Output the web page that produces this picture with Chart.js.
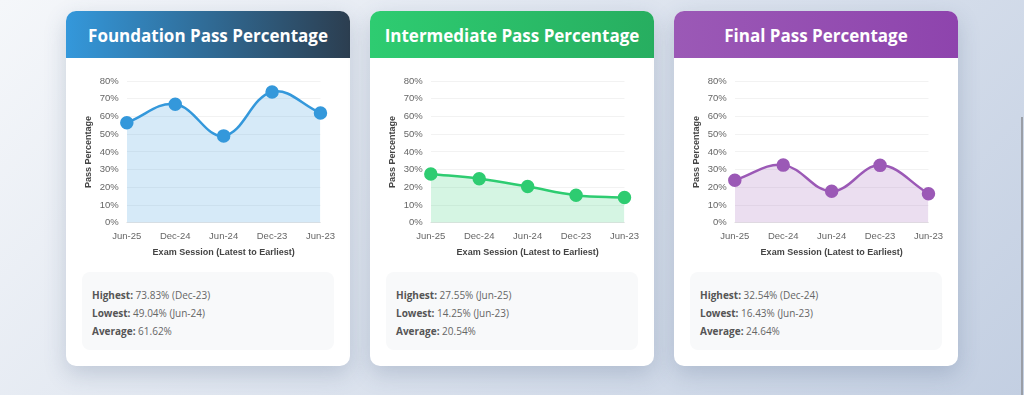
<!DOCTYPE html>
<html>
<head>
<meta charset="utf-8">
<script src="https://cdn.jsdelivr.net/npm/chart.js@4.4.0/dist/chart.umd.min.js"></script>
<style>
    html, body {
        margin: 0;
        padding: 0;
        width: 1024px;
        height: 395px;
        overflow: hidden;
    }
    body {
        background: linear-gradient(135deg, #f5f7fa 0%, #c3cfe2 100%);
        font-family: "Open Sans", "Noto Sans", sans-serif;
        position: relative;
    }
    .card {
        position: absolute;
        top: 11px;
        width: 284px;
        height: 355px;
        background: #fff;
        border-radius: 10px;
        box-shadow: 0 8px 22px rgba(60, 80, 120, 0.22);
        overflow: hidden;
    }
    .card h2 {
        margin: 0;
        height: 47px;
        line-height: 49px;
        text-align: center;
        color: #fff;
        font-size: 17px;
        font-weight: 700;
    }
    .chart-box {
        position: absolute;
        left: 15px;
        top: 62px;
        width: 254px;
        height: 189px;
    }
    .stats {
        position: absolute;
        left: 16px;
        top: 261px;
        width: 252px;
        height: 78px;
        box-sizing: border-box;
        background: #f8f9fa;
        border-radius: 8px;
        padding: 14px 10px;
        font-size: 10px;
        color: #666;
        line-height: 18px;
    }
    .stats b { color: #555; }
    .scroll {
        position: absolute;
        right: 1px;
        top: 117px;
        width: 2px;
        height: 278px;
        background: #9a9ea6;
    }
</style>
</head>
<body>
<div class="card" style="left:66px">
    <h2 style="background:linear-gradient(90deg,#3498db,#2c3e50)">Foundation Pass Percentage</h2>
    <div class="chart-box"><canvas id="chart1"></canvas></div>
    <div class="stats" id="stats1"></div>
</div>
<div class="card" style="left:370px">
    <h2 style="background:linear-gradient(90deg,#2ecc71,#27ae60)">Intermediate Pass Percentage</h2>
    <div class="chart-box"><canvas id="chart2"></canvas></div>
    <div class="stats" id="stats2"></div>
</div>
<div class="card" style="left:674px">
    <h2 style="background:linear-gradient(90deg,#9b59b6,#8e44ad)">Final Pass Percentage</h2>
    <div class="chart-box"><canvas id="chart3"></canvas></div>
    <div class="stats" id="stats3"></div>
</div>
<div class="scroll"></div>
<script>
const sessions = ["Jun-25", "Dec-24", "Jun-24", "Dec-23", "Jun-23"];
const foundation = [56.45, 66.85, 49.04, 73.83, 61.93];
const intermediate = [27.55, 24.85, 20.45, 15.6, 14.25];
const finalLevel = [24.0, 32.54, 17.83, 32.4, 16.43];
const yTicks = [0, 10, 20, 30, 40, 50, 60, 70, 80];

function makeChart(id, data, color, fill) {
    const ctx = document.getElementById(id);
    new Chart(ctx, {
        type: 'line',
        data: {
            labels: sessions,
            datasets: [{
                label: 'Pass Percentage',
                data: data,
                borderColor: color,
                backgroundColor: fill,
                fill: true,
                tension: 0.4,
                borderWidth: 2.5,
                pointRadius: 5.5,
                pointHoverRadius: 5.5,
                pointBackgroundColor: color,
                pointBorderColor: color
            }]
        },
        options: {
            responsive: true,
            maintainAspectRatio: false,
            animation: false,
            plugins: {
                legend: { display: false },
                tooltip: { enabled: false }
            },
            scales: {
                y: {
                    min: yTicks[0],
                    max: yTicks[yTicks.length - 1],
                    ticks: {
                        stepSize: 10,
                        padding: 0,
                        color: '#666',
                        font: { size: 9.5 },
                        callback: function (v) { return v + '%'; }
                    },
                    grid: { color: 'rgba(0,0,0,0.05)', tickColor: 'transparent' },
                    border: { display: false },
                    title: {
                        display: true,
                        text: 'Pass Percentage',
                        color: '#444',
                        padding: { top: 2, bottom: 6 },
                        font: { size: 9, weight: 'bold' }
                    }
                },
                x: {
                    ticks: { color: '#666', padding: 0, maxRotation: 0, font: { size: 9.5 } },
                    grid: { display: false },
                    border: { color: 'rgba(0,0,0,0.06)' },
                    title: {
                        display: true,
                        text: 'Exam Session (Latest to Earliest)',
                        color: '#444',
                        padding: { top: 5, bottom: 4 },
                        font: { size: 9, weight: 'bold' }
                    }
                }
            }
        }
    });
}

function fillStats(id, data) {
    var hi = 0, lo = 0, sum = 0;
    for (var i = 0; i < data.length; i++) {
        if (data[i] > data[hi]) hi = i;
        if (data[i] < data[lo]) lo = i;
        sum += data[i];
    }
    document.getElementById(id).innerHTML =
        "<b>Highest:</b> " + data[hi].toFixed(2) + "% (" + sessions[hi] + ")<br>" +
        "<b>Lowest:</b> " + data[lo].toFixed(2) + "% (" + sessions[lo] + ")<br>" +
        "<b>Average:</b> " + (sum / data.length).toFixed(2) + "%";
}

makeChart('chart1', foundation, '#3498db', 'rgba(52,152,219,0.2)');
makeChart('chart2', intermediate, '#2ecc71', 'rgba(46,204,113,0.2)');
makeChart('chart3', finalLevel, '#9b59b6', 'rgba(155,89,182,0.2)');
fillStats('stats1', foundation);
fillStats('stats2', intermediate);
fillStats('stats3', finalLevel);
</script>
</body>
</html>
